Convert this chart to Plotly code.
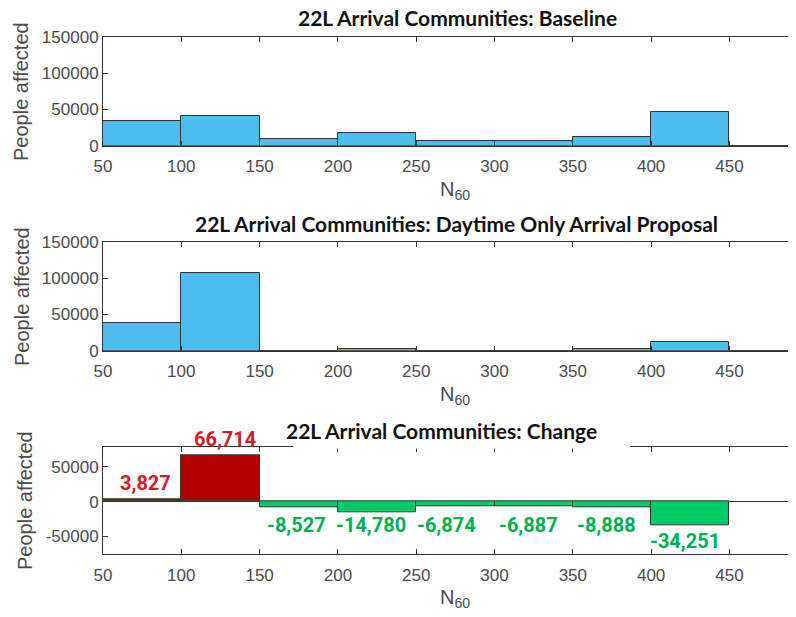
import plotly.graph_objects as go

# ---- data ----
bin_edges = [50, 100, 150, 200, 250, 300, 350, 400, 450, 500]
baseline = [34400, 41200, 8600, 17300, 7000, 7000, 11400, 46300, 200]
daytime = [38200, 107900, 100, 2500, 100, 100, 2500, 12000, 0]
change = [3827, 66714, -8527, -14780, -6874, -6887, -8888, -34251]
x_ticks = [50, 100, 150, 200, 250, 300, 350, 400, 450]
y_ticks_top = [0, 50000, 100000, 150000]
y_ticks_change = [-50000, 0, 50000]
titles = ["22L Arrival Communities: Baseline",
          "22L Arrival Communities: Daytime Only Arrival Proposal",
          "22L Arrival Communities: Change"]

# label nudges (pixels) for the change-panel value labels
label_dx = [3, 5, -2, -6, -9, -5, -5, -5]

W, H = 796, 617
OFF = 8  # page body offset
centers = [(a + b) / 2 for a, b in zip(bin_edges[:-1], bin_edges[1:])]
width = bin_edges[1] - bin_edges[0]

BLUE = "#4DBEEE"
RED_BAR = "#B00000"
GREEN_BAR = "#00CC66"
RED_TXT = "#D0202A"
GREEN_TXT = "#00B050"
EDGE = "#333333"
TICK_COL = "#4a4a4a"

def px(x):
    return (x - OFF) / W

def py(y):
    return 1 - (y - OFF) / H

# panel pixel extents (top, bottom) in window pixels
panels = [(37, 145.7), (242, 350.7), (447.3, 554.3)]
domains = [[py(b), py(t)] for t, b in panels]
xdom = [px(103), 1]
xr = [50, 497.6]

fig = go.Figure()

fig.add_trace(go.Bar(x=centers, y=baseline, width=width, marker_color=BLUE,
                     marker_line=dict(color=EDGE, width=1), xaxis="x", yaxis="y",
                     showlegend=False))
fig.add_trace(go.Bar(x=centers, y=daytime, width=width, marker_color=BLUE,
                     marker_line=dict(color=EDGE, width=1), xaxis="x2", yaxis="y2",
                     showlegend=False))
colors = [RED_BAR if v > 0 else GREEN_BAR for v in change]
fig.add_trace(go.Bar(x=centers[:len(change)], y=change, width=width, marker_color=colors,
                     marker_line=dict(color=EDGE, width=1), xaxis="x3", yaxis="y3",
                     showlegend=False))

tickfont = dict(family="Liberation Sans, Arial, sans-serif", size=17, color=TICK_COL)

common_x = dict(range=xr, tickvals=x_ticks, ticktext=[str(v) for v in x_ticks],
                ticks="inside", ticklen=5,
                tickcolor=EDGE, showline=True, linecolor=EDGE, linewidth=1,
                showgrid=False, zeroline=False, tickfont=tickfont,
                ticklabelstandoff=5, automargin=False)
common_y = dict(ticks="inside", ticklen=5, tickcolor=EDGE, showline=True,
                linecolor=EDGE, linewidth=1, showgrid=False, tickfont=tickfont,
                automargin=False)

layout = dict(
    width=W, height=H, margin=dict(l=0, r=0, t=0, b=0, autoexpand=False),
    paper_bgcolor="white", plot_bgcolor="white", bargap=0,
    xaxis=dict(domain=xdom, anchor="y", mirror="ticks", **common_x),
    yaxis=dict(domain=domains[0], anchor="x", range=[0, 150000],
               tickvals=y_ticks_top, ticktext=[str(v) for v in y_ticks_top],
               zeroline=False, **common_y),
    xaxis2=dict(domain=xdom, anchor="y2", mirror="ticks", **common_x),
    yaxis2=dict(domain=domains[1], anchor="x2", range=[0, 150000],
                tickvals=y_ticks_top, ticktext=[str(v) for v in y_ticks_top],
                zeroline=False, **common_y),
    xaxis3=dict(domain=xdom, anchor="y3", mirror="ticks", **common_x),
    yaxis3=dict(domain=domains[2], anchor="x3", range=[-75500, 77700],
                tickvals=y_ticks_change, ticktext=[str(v) for v in y_ticks_change],
                zeroline=True, zerolinecolor=EDGE, zerolinewidth=1, **common_y),
)
fig.update_layout(**layout)

ann = []
# titles
title_pos = [(458, 18), (456, 223.5), (441.5, 430)]
for t, (x, y) in zip(titles, title_pos):
    ann.append(dict(text="<b>" + t + "</b>", x=px(x), y=py(y), xref="paper", yref="paper",
                    showarrow=False, xanchor="center", yanchor="middle",
                    font=dict(family="Lato, Open Sans, sans-serif", size=21, color="#111111")))
# y titles
ytitle_pos = [(21.5, 91.5), (21.5, 296.5), (25, 501)]
for x, y in ytitle_pos:
    ann.append(dict(text="People affected", x=px(x), y=py(y), xref="paper", yref="paper",
                    showarrow=False, textangle=-90, xanchor="center", yanchor="middle",
                    font=dict(family="Liberation Sans, Arial, sans-serif", size=20, color=TICK_COL)))
# x titles
xtitle_pos = [(455, 190), (455, 395), (455, 598)]
for x, y in xtitle_pos:
    ann.append(dict(text="N<sub>60</sub>", x=px(x), y=py(y), xref="paper", yref="paper",
                    showarrow=False, xanchor="center", yanchor="middle",
                    font=dict(family="Liberation Sans, Arial, sans-serif", size=20, color=TICK_COL)))
# value labels on change panel
for c, v, dx in zip(centers, change, label_dx):
    if v > 0:
        y, ys, col = v, 16, RED_TXT
    elif v > -20000:
        y, ys, col = -33000, 0, GREEN_TXT
    else:
        y, ys, col = v, -16, GREEN_TXT
    ann.append(dict(text=f"<b>{v:,}</b>", x=c, y=y, xref="x3", yref="y3",
                    showarrow=False, xanchor="center", yanchor="middle", xshift=dx, yshift=ys,
                    font=dict(family="Roboto, sans-serif", size=20, color=col)))
fig.update_layout(annotations=ann)

# white box behind change title that hides part of top border
fig.add_shape(type="rect", xref="paper", yref="paper", x0=px(293), x1=px(630),
              y0=py(448.6), y1=py(444), fillcolor="white", line=dict(width=0), layer="above")

fig.write_html("out.html")
